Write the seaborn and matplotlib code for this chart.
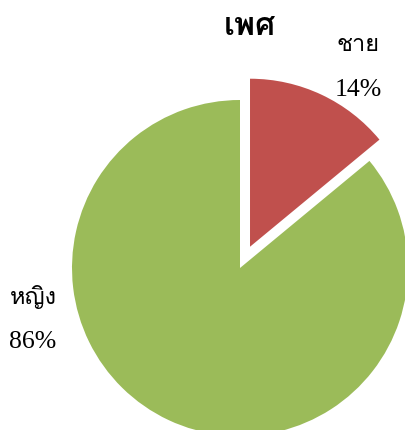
import matplotlib
matplotlib.use("Agg")
import matplotlib.pyplot as plt
from matplotlib import font_manager
from matplotlib.ft2font import FT2Font
import seaborn as sns

# data
title = "เพศ"
categories = ["ชาย", "หญิง"]
shares = [14, 86]
colors = ["#C0504D", "#9BBB59"]


def find_thai_font():
    for f in font_manager.fontManager.ttflist:
        try:
            if ord("เ") in FT2Font(f.fname).get_charmap():
                return f.name
        except Exception:
            continue
    return "DejaVu Sans"


sns.set_theme(style="white")
thai = find_thai_font()
plt.rcParams["font.family"] = [thai, "DejaVu Sans"]

fig = plt.figure(figsize=(4.05, 4.30), dpi=100)
ax = fig.add_axes([0, 0, 1, 1])

# slice 0 starts at 12 o'clock, clockwise, first slice pulled out
ax.pie(shares, colors=colors, startangle=90, counterclock=False,
       explode=[0.14, 0], radius=1.0,
       wedgeprops={"linewidth": 0})

# pie centre at about (240, 268) px, radius 168 px
ax.set_xlim(-240 / 168, 165 / 168)
ax.set_ylim(-162 / 168, 268 / 168)
ax.set_aspect("auto")
ax.axis("off")

ax.text(0.06, 1.44, title, ha="center", va="center", fontsize=23,
        fontweight="bold", color="black", family=[thai, "DejaVu Sans"])

label_pos = [(0.702, 1.33, 1.06), (-1.232, -0.175, -0.44)]
for cat, val, (x, y1, y2) in zip(categories, shares, label_pos):
    ax.text(x, y1, cat, ha="center", va="center", fontsize=17,
            color="black", family=[thai, "DejaVu Sans"])
    ax.text(x, y2, f"{val}%", ha="center", va="center", fontsize=18.5,
            color="black", family=["Liberation Serif", "DejaVu Serif"])

fig.savefig("out.png", dpi=100)
